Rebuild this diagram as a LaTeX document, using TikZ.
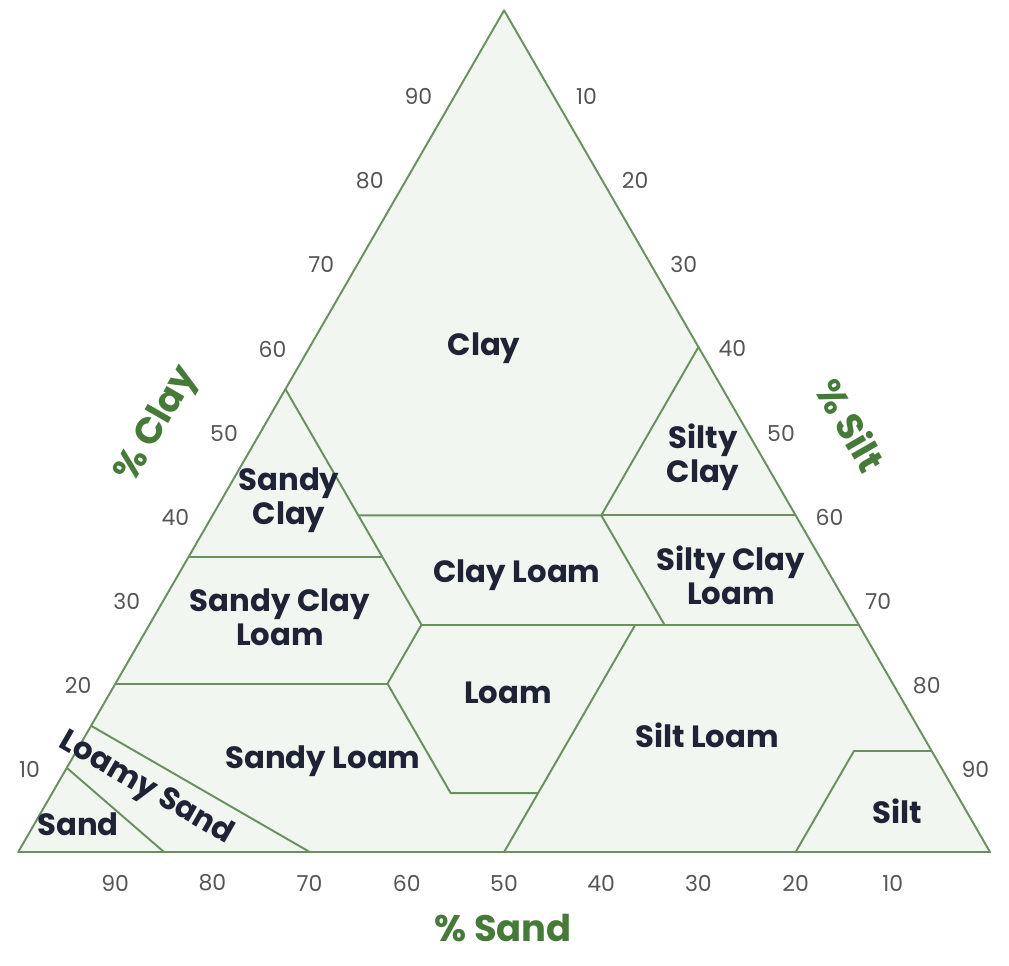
\documentclass[tikz,border=0pt]{standalone}
\usepackage{fontspec}
\setmainfont{Poppins}
\definecolor{soilfill}{HTML}{F1F6F0}
\definecolor{soilline}{HTML}{6A8F60}
\definecolor{axisgreen}{HTML}{467A38}
\definecolor{tickgray}{HTML}{555555}
\definecolor{zonetext}{HTML}{1F2336}
\tikzset{
    zone/.style={font=\fontsize{17.5}{19.5}\selectfont\bfseries,text=zonetext,align=center,inner sep=0pt},
    tick/.style={font=\fontsize{12.5}{14}\selectfont,text=tickgray,inner sep=0pt},
    axistitle/.style={font=\fontsize{21}{24}\selectfont\bfseries,text=axisgreen,inner sep=0pt},
    border/.style={draw=soilline,line width=1.1pt,line join=round},
}
\begin{document}
\begin{tikzpicture}[x=0.02cm,y=-0.02cm]
    \useasboundingbox (0,0) rectangle (1009,965);
    % ternary frame: (sand, clay) in percent
    \begin{scope}[shift={(990,852)},x={(-0.1944cm,0)},y={(-0.0972cm,0.16836cm)}]
        \coordinate (Left) at (100,0);
        \coordinate (Right) at (0,0);
        \coordinate (Top) at (0,100);
        \filldraw[border,fill=soilfill] (Left) -- (Right) -- (Top) -- cycle;
        \coordinate (sc1) at (45,55);  \coordinate (sc2) at (45,40);
        \coordinate (cl1) at (20,40);  \coordinate (cl2) at (0,60);
        \coordinate (sy1) at (0,40);   \coordinate (sa1) at (65,35);
        \coordinate (sa2) at (45,35);  \coordinate (lo1) at (45,27);
        \coordinate (lo2) at (0,27);   \coordinate (lo3) at (20,27);
        \coordinate (sl1) at (80,20);  \coordinate (sl2) at (52,20);
        \coordinate (sl3) at (52,7);   \coordinate (sl4) at (43,7);
        \coordinate (si1) at (23,27);  \coordinate (si2) at (50,0);
        \coordinate (st1) at (8,12);   \coordinate (st2) at (0,12);
        \coordinate (st3) at (20,0);   \coordinate (ls1) at (85,15);
        \coordinate (ls2) at (70,0);   \coordinate (sd1) at (90,10);
        \coordinate (sd2) at (85,0);
        \draw[border] (sc1) -- (sc2) -- (cl1) -- (cl2);
        \draw[border] (sc2) -- (lo1) -- (sl2) -- (sl3) -- (sl4) -- (si1) -- (si2);
        \draw[border] (cl1) -- (sy1);
        \draw[border] (cl1) -- (lo3);
        \draw[border] (sa1) -- (sa2);
        \draw[border] (lo1) -- (lo2);
        \draw[border] (sl1) -- (sl2);
        \draw[border] (si1) -- (lo3);
        \draw[border] (st3) -- (st1) -- (st2);
        \draw[border] (ls1) -- (ls2);
        \draw[border] (sd1) -- (sd2);
    \end{scope}
    % ticks
    \foreach \v [count=\i] in {90,80,...,10} {
        \node[tick] (sandtick\i) at ({18+9.72*(100-\v)},883) {\v};
        \node[tick] (claytick\i) at ({990-9.72*(100-\v)-4.86*\v-37},{852-8.418*\v+2}) {\v};
        \node[tick] (silttick\i) at ({990-4.86*(100-\v)+34},{852-8.418*(100-\v)+2}) {\v};
    }
    % axis titles
    \node[axistitle] (sandtitle) at (503,928) {\% Sand};
    \node[axistitle,rotate=60] (claytitle) at (158,425) {\% Clay};
    \node[axistitle,rotate=-60] (silttitle) at (851,425) {\% Silt};
    % zones
    \node[zone] (clay) at (484,348) {Clay};
    \node[zone] (siltyclay) at (703,457) {Silty\\Clay};
    \node[zone] (sandyclay) at (289,500) {Sandy\\Clay};
    \node[zone] (clayloam) at (517,575) {Clay Loam};
    \node[zone] (siltyclayloam) at (731,575) {Silty Clay\\Loam};
    \node[zone] (sandyclayloam) at (280,617) {Sandy Clay\\Loam};
    \node[zone] (loam) at (508,693) {Loam};
    \node[zone] (siltloam) at (707,735) {Silt Loam};
    \node[zone] (sandyloam) at (323,761) {Sandy Loam};
    \node[zone,rotate=-30] (loamysand) at (146,789) {Loamy Sand};
    \node[zone] (sand) at (78,824) {Sand};
    \node[zone] (silt) at (897,811) {Silt};
\end{tikzpicture}
\end{document}
